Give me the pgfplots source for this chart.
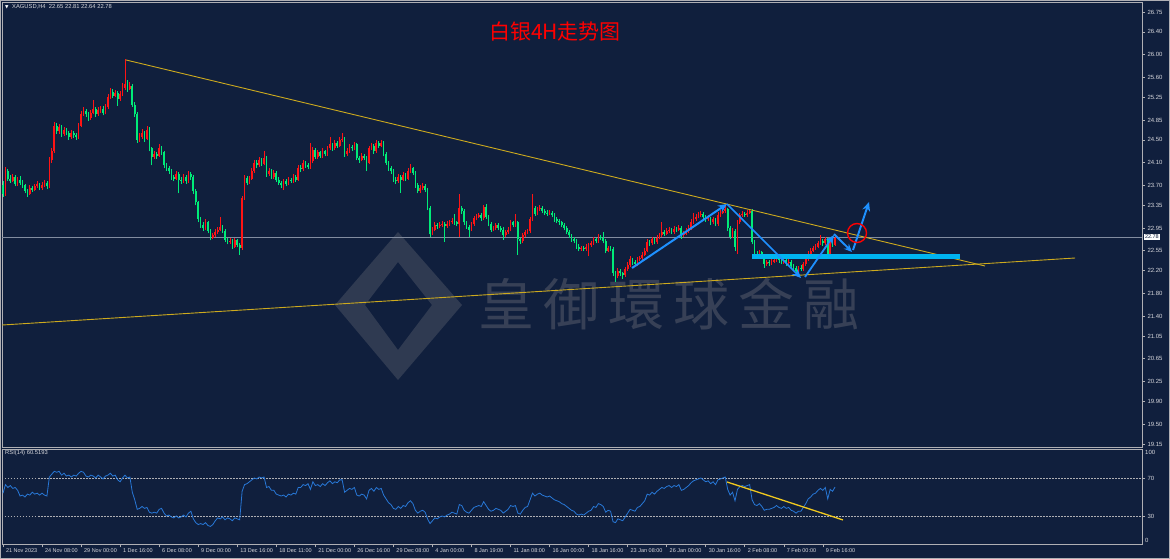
\documentclass[border=0pt]{standalone}
\usepackage{fontspec}
\setmainfont{Liberation Sans}
\newfontfamily\cjk{Noto Sans CJK SC}
\newfontfamily\dejavu{DejaVu Sans}
\usepackage{pgfplots}
\usepackage{pgfplotstable}
\pgfplotsset{compat=1.18}
\usetikzlibrary{arrows.meta}

\definecolor{bgnavy}{RGB}{16,31,61}
\definecolor{upc}{RGB}{255,20,20}
\definecolor{dnc}{RGB}{0,235,120}
\definecolor{axisgray}{RGB}{175,175,180}
\definecolor{labelgray}{RGB}{215,215,220}
\definecolor{trendgold}{RGB}{205,170,30}
\definecolor{arrowblue}{RGB}{30,144,255}
\definecolor{barcyan}{RGB}{0,180,240}
\definecolor{rsiblue}{RGB}{40,120,215}
\definecolor{priceline}{RGB}{130,140,160}
\definecolor{wmgray}{RGB}{128,128,135}
\definecolor{rsiyellow}{RGB}{240,200,30}

\pgfplotstableread{
i o h l c
0 23.70 23.78 23.50 23.55
1 23.55 24.02 23.52 23.95
2 23.95 23.98 23.78 23.82
3 23.82 23.89 23.74 23.78
4 23.78 23.90 23.76 23.85
5 23.85 23.88 23.68 23.72
6 23.72 23.84 23.69 23.80
7 23.80 23.86 23.71 23.75
8 23.75 23.79 23.66 23.70
9 23.70 23.73 23.56 23.60
10 23.60 23.64 23.50 23.55
11 23.55 23.70 23.53 23.65
12 23.65 23.69 23.58 23.62
13 23.62 23.72 23.60 23.68
14 23.68 23.77 23.65 23.72
15 23.72 23.75 23.61 23.65
16 23.65 23.76 23.62 23.70
17 23.70 23.80 23.67 23.75
18 23.75 23.78 23.63 23.68
19 23.68 24.20 23.65 24.15
20 24.15 24.36 24.10 24.30
21 24.30 24.82 24.27 24.75
22 24.75 24.80 24.60 24.65
23 24.65 24.78 24.61 24.72
24 24.72 24.76 24.55 24.60
25 24.60 24.73 24.57 24.68
26 24.68 24.71 24.58 24.62
27 24.62 24.66 24.50 24.55
28 24.55 24.67 24.52 24.62
29 24.62 24.65 24.53 24.58
30 24.58 24.62 24.50 24.55
31 24.55 24.80 24.52 24.75
32 24.75 25.00 24.72 24.95
33 24.95 25.08 24.92 25.00
34 25.00 25.04 24.90 24.95
35 24.95 24.99 24.83 24.88
36 24.88 25.03 24.85 24.98
37 24.98 25.20 24.95 25.05
38 25.05 25.08 24.90 24.95
39 24.95 25.07 24.92 25.02
40 25.02 25.10 24.98 25.05
41 25.05 25.09 24.93 24.98
42 24.98 25.13 24.95 25.08
43 25.08 25.30 25.05 25.25
44 25.25 25.42 25.22 25.35
45 25.35 25.40 25.24 25.28
46 25.28 25.37 25.25 25.32
47 25.32 25.36 25.10 25.22
48 25.22 25.36 25.19 25.30
49 25.30 25.50 25.27 25.42
50 25.42 25.92 25.38 25.48
51 25.48 25.55 25.35 25.40
52 25.40 25.52 25.37 25.45
53 25.45 25.48 25.08 25.12
54 25.12 25.16 24.90 24.95
55 24.95 24.99 24.45 24.50
56 24.50 24.62 24.46 24.55
57 24.55 24.70 24.52 24.62
58 24.62 24.66 24.47 24.52
59 24.52 24.74 24.50 24.68
60 24.68 24.72 24.30 24.35
61 24.35 24.38 24.05 24.20
62 24.20 24.30 24.16 24.25
63 24.25 24.29 24.17 24.22
64 24.22 24.42 24.20 24.35
65 24.35 24.39 24.24 24.28
66 24.28 24.31 24.00 24.05
67 24.05 24.09 23.96 24.00
68 24.00 24.04 23.90 23.95
69 23.95 23.98 23.80 23.85
70 23.85 23.88 23.77 23.82
71 23.82 23.95 23.79 23.90
72 23.90 23.93 23.56 23.80
73 23.80 23.84 23.72 23.78
74 23.78 23.90 23.75 23.85
75 23.85 23.88 23.73 23.78
76 23.78 23.95 23.75 23.90
77 23.90 23.93 23.80 23.85
78 23.85 23.88 23.55 23.60
79 23.60 23.63 23.35 23.40
80 23.40 23.43 23.05 23.10
81 23.10 23.14 22.95 23.00
82 23.00 23.06 22.90 22.95
83 22.95 23.10 22.92 23.05
84 23.05 23.08 22.86 22.90
85 22.90 22.93 22.73 22.78
86 22.78 22.87 22.75 22.82
87 22.82 22.93 22.79 22.88
88 22.88 22.96 22.85 22.92
89 22.92 23.15 22.89 22.97
90 22.97 23.00 22.86 22.90
91 22.90 22.93 22.70 22.74
92 22.74 22.78 22.66 22.70
93 22.70 22.77 22.67 22.72
94 22.72 22.75 22.58 22.62
95 22.62 22.78 22.60 22.73
96 22.73 22.76 22.61 22.65
97 22.65 22.69 22.48 22.60
98 22.60 23.52 22.57 23.48
99 23.48 23.88 23.45 23.83
100 23.83 23.87 23.70 23.75
101 23.75 23.87 23.72 23.82
102 23.82 24.00 23.80 23.95
103 23.95 24.15 23.92 24.10
104 24.10 24.14 24.00 24.05
105 24.05 24.20 24.02 24.15
106 24.15 24.18 24.04 24.08
107 24.08 24.30 24.05 24.18
108 24.18 24.21 23.85 23.90
109 23.90 24.00 23.87 23.95
110 23.95 23.98 23.81 23.85
111 23.85 23.97 23.82 23.92
112 23.92 23.95 23.76 23.80
113 23.80 23.84 23.71 23.75
114 23.75 23.78 23.66 23.70
115 23.70 23.82 23.62 23.78
116 23.78 23.81 23.68 23.72
117 23.72 23.85 23.70 23.80
118 23.80 23.83 23.74 23.78
119 23.78 23.90 23.75 23.85
120 23.85 23.88 23.76 23.80
121 23.80 24.05 23.78 24.00
122 24.00 24.06 23.94 23.98
123 23.98 24.15 23.95 24.10
124 24.10 24.13 24.01 24.05
125 24.05 24.10 23.98 24.02
126 24.02 24.45 23.99 24.12
127 24.12 24.37 24.09 24.32
128 24.32 24.35 24.16 24.20
129 24.20 24.33 24.17 24.28
130 24.28 24.31 24.18 24.22
131 24.22 24.35 24.19 24.30
132 24.30 24.33 24.21 24.25
133 24.25 24.40 24.22 24.35
134 24.35 24.55 24.32 24.42
135 24.42 24.45 24.31 24.35
136 24.35 24.50 24.33 24.45
137 24.45 24.48 24.36 24.40
138 24.40 24.55 24.37 24.50
139 24.50 24.62 24.47 24.52
140 24.52 24.55 24.20 24.25
141 24.25 24.35 24.22 24.30
142 24.30 24.43 24.27 24.38
143 24.38 24.41 24.31 24.35
144 24.35 24.47 24.32 24.42
145 24.42 24.45 24.14 24.18
146 24.18 24.22 24.10 24.15
147 24.15 24.27 24.12 24.22
148 24.22 24.25 24.14 24.18
149 24.18 24.21 23.95 24.10
150 24.10 24.40 24.07 24.35
151 24.35 24.45 24.32 24.40
152 24.40 24.43 24.26 24.30
153 24.30 24.50 24.27 24.45
154 24.45 24.48 24.36 24.40
155 24.40 24.50 24.37 24.45
156 24.45 24.48 24.21 24.25
157 24.25 24.28 24.06 24.10
158 24.10 24.13 23.96 24.00
159 24.00 24.04 23.90 23.95
160 23.95 23.98 23.76 23.80
161 23.80 23.84 23.73 23.78
162 23.78 23.90 23.75 23.85
163 23.85 23.88 23.57 23.80
164 23.80 23.93 23.77 23.88
165 23.88 23.91 23.78 23.82
166 23.82 24.00 23.79 23.95
167 23.95 24.07 23.92 24.00
168 24.00 24.03 23.88 23.92
169 23.92 23.95 23.66 23.70
170 23.70 23.74 23.56 23.60
171 23.60 23.70 23.57 23.65
172 23.65 23.74 23.61 23.68
173 23.68 23.72 23.58 23.62
174 23.62 23.66 23.26 23.30
175 23.30 23.34 22.80 22.85
176 22.85 22.97 22.82 22.92
177 22.92 23.05 22.89 23.00
178 23.00 23.04 22.94 22.98
179 22.98 23.05 22.95 23.00
180 23.00 23.07 22.97 23.02
181 23.02 23.05 22.70 22.98
182 22.98 23.07 22.95 23.02
183 23.02 23.09 22.99 23.05
184 23.05 23.12 23.02 23.08
185 23.08 23.20 23.01 23.05
186 23.05 23.08 22.98 23.02
187 23.02 23.55 22.80 23.30
188 23.30 23.34 23.20 23.25
189 23.25 23.28 23.01 23.05
190 23.05 23.08 22.93 22.97
191 22.97 23.00 22.80 22.92
192 22.92 23.06 22.89 23.02
193 23.02 23.16 22.99 23.12
194 23.12 23.19 23.09 23.15
195 23.15 23.22 23.12 23.18
196 23.18 23.21 23.08 23.12
197 23.12 23.36 23.09 23.32
198 23.32 23.38 23.11 23.15
199 23.15 23.18 22.98 23.02
200 23.02 23.05 22.88 22.92
201 22.92 22.99 22.89 22.95
202 22.95 23.04 22.92 23.00
203 23.00 23.03 22.91 22.95
204 22.95 22.98 22.88 22.92
205 22.92 22.96 22.74 22.82
206 22.82 22.92 22.79 22.88
207 22.88 22.96 22.85 22.92
208 22.92 23.09 22.89 23.05
209 23.05 23.08 22.96 23.00
210 23.00 23.20 22.97 23.05
211 23.05 23.08 22.48 22.75
212 22.75 22.78 22.66 22.72
213 22.72 22.86 22.69 22.82
214 22.82 22.92 22.79 22.88
215 22.88 22.94 22.85 22.90
216 22.90 23.14 22.87 23.10
217 23.10 23.55 23.07 23.30
218 23.30 23.34 23.16 23.20
219 23.20 23.32 23.17 23.28
220 23.28 23.35 23.25 23.30
221 23.30 23.33 23.21 23.25
222 23.25 23.28 23.18 23.22
223 23.22 23.26 23.16 23.20
224 23.20 23.27 23.17 23.22
225 23.22 23.25 23.14 23.18
226 23.18 23.21 23.06 23.10
227 23.10 23.14 23.04 23.08
228 23.08 23.11 23.01 23.05
229 23.05 23.08 22.96 23.00
230 23.00 23.03 22.91 22.95
231 22.95 22.98 22.84 22.88
232 22.88 22.91 22.78 22.82
233 22.82 22.85 22.71 22.75
234 22.75 22.79 22.68 22.72
235 22.72 22.75 22.58 22.62
236 22.62 22.66 22.54 22.58
237 22.58 22.64 22.55 22.60
238 22.60 22.63 22.54 22.58
239 22.58 22.66 22.55 22.62
240 22.62 22.69 22.45 22.65
241 22.65 22.72 22.62 22.68
242 22.68 22.79 22.65 22.75
243 22.75 22.78 22.68 22.72
244 22.72 22.84 22.69 22.80
245 22.80 22.83 22.74 22.78
246 22.78 22.88 22.68 22.72
247 22.72 22.75 22.51 22.55
248 22.55 22.64 22.52 22.60
249 22.60 22.63 22.54 22.58
250 22.58 22.61 22.11 22.15
251 22.15 22.19 22.00 22.10
252 22.10 22.24 22.07 22.20
253 22.20 22.23 22.11 22.15
254 22.15 22.18 22.06 22.12
255 22.12 22.27 22.09 22.22
256 22.22 22.35 22.19 22.30
257 22.30 22.45 22.27 22.40
258 22.40 22.43 22.30 22.35
259 22.35 22.38 22.28 22.32
260 22.32 22.44 22.29 22.40
261 22.40 22.46 22.37 22.42
262 22.42 22.52 22.39 22.48
263 22.48 22.60 22.45 22.55
264 22.55 22.75 22.52 22.70
265 22.70 22.73 22.64 22.68
266 22.68 22.80 22.65 22.75
267 22.75 22.78 22.66 22.70
268 22.70 22.82 22.67 22.78
269 22.78 22.87 22.75 22.82
270 22.82 23.05 22.79 22.88
271 22.88 22.91 22.81 22.85
272 22.85 22.95 22.82 22.90
273 22.90 22.97 22.87 22.92
274 22.92 22.95 22.84 22.88
275 22.88 22.98 22.85 22.93
276 22.93 22.96 22.88 22.92
277 22.92 23.00 22.89 22.95
278 22.95 22.99 22.76 22.82
279 22.82 22.89 22.79 22.85
280 22.85 22.95 22.82 22.90
281 22.90 23.00 22.87 22.95
282 22.95 23.10 22.92 23.05
283 23.05 23.22 23.02 23.10
284 23.10 23.20 23.07 23.15
285 23.15 23.23 23.12 23.18
286 23.18 23.25 23.15 23.20
287 23.20 23.23 23.11 23.15
288 23.15 23.18 23.06 23.10
289 23.10 23.17 23.07 23.12
290 23.12 23.15 23.01 23.05
291 23.05 23.14 23.02 23.10
292 23.10 23.13 22.98 23.02
293 23.02 23.23 22.99 23.18
294 23.18 23.27 23.15 23.22
295 23.22 23.30 23.19 23.25
296 23.25 23.37 23.22 23.28
297 23.28 23.31 22.90 22.95
298 22.95 22.99 22.75 22.80
299 22.80 22.95 22.77 22.90
300 22.90 22.93 22.55 22.62
301 22.62 23.09 22.50 23.05
302 23.05 23.22 23.02 23.18
303 23.18 23.25 23.15 23.20
304 23.20 23.23 23.14 23.18
305 23.18 23.26 23.15 23.22
306 23.22 23.28 23.19 23.25
307 23.25 23.28 22.66 22.70
308 22.70 22.74 22.46 22.50
309 22.50 22.54 22.44 22.48
310 22.48 22.56 22.45 22.52
311 22.52 22.55 22.41 22.45
312 22.45 22.48 22.25 22.32
313 22.32 22.39 22.29 22.35
314 22.35 22.38 22.29 22.33
315 22.33 22.40 22.30 22.36
316 22.36 22.42 22.33 22.38
317 22.38 22.46 22.35 22.42
318 22.42 22.45 22.34 22.38
319 22.38 22.41 22.31 22.35
320 22.35 22.43 22.32 22.38
321 22.38 22.41 22.29 22.33
322 22.33 22.40 22.30 22.36
323 22.36 22.39 22.24 22.28
324 22.28 22.31 22.21 22.25
325 22.25 22.28 22.16 22.20
326 22.20 22.29 22.15 22.25
327 22.25 22.30 22.20 22.23
328 22.23 22.36 22.20 22.32
329 22.32 22.44 22.29 22.40
330 22.40 22.54 22.37 22.50
331 22.50 22.59 22.47 22.55
332 22.55 22.64 22.52 22.60
333 22.60 22.66 22.57 22.62
334 22.62 22.72 22.59 22.68
335 22.68 22.82 22.65 22.72
336 22.72 22.75 22.64 22.68
337 22.68 22.79 22.65 22.75
338 22.75 22.78 22.41 22.45
339 22.45 22.74 22.42 22.70
340 22.70 22.73 22.62 22.65
341 22.65 22.81 22.64 22.78
}\candles

\begin{document}
\begin{tikzpicture}[x=1pt,y=1pt]
\useasboundingbox (0,0) rectangle (1170,559);
\fill[bgnavy] (0,0) rectangle (1170,559);
% watermark logo and text
\fill[wmgray, opacity=0.28, even odd rule] (398,327)--(462,254)--(398,179)--(335,254)--cycle (398,297)--(432,254)--(398,209)--(365,254)--cycle;
\node[anchor=west, text=wmgray, opacity=0.35, inner sep=0pt, font=\cjk\fontsize{56}{56}\selectfont] at (478,255) {皇\hspace{9pt}御\hspace{9pt}環\hspace{9pt}球\hspace{9pt}金\hspace{9pt}融};

\begin{axis}[at={(2pt,557pt)}, anchor=north west, scale only axis,
  width=1140pt, height=445pt,
  xmin=-0.41, xmax=466.8, ymin=19.097, ymax=26.926,
  axis line style={draw=axisgray, line width=0.8pt},
  xtick=\empty,
  ytick={26.75,26.40,26.00,25.60,25.25,24.85,24.50,24.10,23.70,23.35,22.95,22.55,22.20,21.80,21.40,21.05,20.65,20.25,19.90,19.50,19.15},
  yticklabels={26.75,26.40,26.00,25.60,25.25,24.85,24.50,24.10,23.70,23.35,22.95,22.55,22.20,21.80,21.40,21.05,20.65,20.25,19.90,19.50,19.15},
  ytick pos=right, yticklabel pos=right, tick align=outside,
  major tick length=3pt, tick style={axisgray, line width=0.6pt},
  yticklabel style={font=\fontsize{6}{7}\selectfont, text=labelgray, anchor=west, xshift=-1pt},
  clip=true]
% current price line
\draw[priceline, line width=0.6pt] (axis cs:-0.41,22.78) -- (axis cs:466.8,22.78);
% candle wicks
\addplot[draw=none, forget plot, restrict expr to domain={\thisrow{c}-\thisrow{o}}{0:100},
  error bars/.cd, y dir=plus, y explicit, error mark=none,
  error bar style={draw=upc, line width=0.8pt}]
  table[x=i, y=l, y error plus expr=\thisrow{h}-\thisrow{l}] {\candles};
\addplot[draw=none, forget plot, restrict expr to domain={\thisrow{o}-\thisrow{c}}{0.0001:100},
  error bars/.cd, y dir=plus, y explicit, error mark=none,
  error bar style={draw=dnc, line width=0.8pt}]
  table[x=i, y=l, y error plus expr=\thisrow{h}-\thisrow{l}] {\candles};
% candle bodies
\addplot[draw=none, forget plot, restrict expr to domain={\thisrow{c}-\thisrow{o}}{0:100},
  error bars/.cd, y dir=plus, y explicit, error mark=none,
  error bar style={draw=upc, line width=1.7pt}]
  table[x=i, y=o, y error plus expr=\thisrow{c}-\thisrow{o}] {\candles};
\addplot[draw=none, forget plot, restrict expr to domain={\thisrow{o}-\thisrow{c}}{0.0001:100},
  error bars/.cd, y dir=plus, y explicit, error mark=none,
  error bar style={draw=dnc, line width=1.7pt}]
  table[x=i, y=c, y error plus expr=\thisrow{o}-\thisrow{c}] {\candles};
% trend lines
\draw[trendgold, line width=0.9pt] (axis cs:50.41,25.906) -- (axis cs:402.46,22.281);
\draw[trendgold, line width=0.9pt] (axis cs:-0.41,21.243) -- (axis cs:439.34,22.422);
% support bar
\draw[barcyan, line width=5pt] (axis cs:306.97,22.457) -- (axis cs:392.21,22.457);
% arrows
\draw[arrowblue, line width=2pt, -{Stealth[length=9pt,width=8pt]}] (axis cs:257.79,22.246) -- (axis cs:296.72,23.372);
\draw[arrowblue, line width=1.6pt, -{Stealth[length=9pt,width=8pt]}] (axis cs:296.72,23.372) -- (axis cs:327.05,22.070);
\draw[arrowblue, line width=1.8pt, -{Stealth[length=9pt,width=8pt]}] (axis cs:328.69,22.088) -- (axis cs:340.57,22.827);
\draw[arrowblue, line width=1.8pt, -{Stealth[length=8pt,width=7pt]}] (axis cs:340.57,22.844) -- (axis cs:347.95,22.528);
\draw[arrowblue, line width=2pt, -{Stealth[length=9pt,width=8pt]}] (axis cs:348.36,22.563) -- (axis cs:354.92,23.407);
\draw[red, line width=1.4pt] (axis cs:350.0,22.862) circle[radius=9.5pt];
\end{axis}

\begin{axis}[at={(2pt,14.5pt)}, anchor=south west, scale only axis,
  width=1140pt, height=95.5pt,
  xmin=-0.41, xmax=466.8, ymin=0, ymax=100.5,
  axis line style={draw=axisgray, line width=0.8pt},
  xtick={0,16,...,336},
  xticklabels={21 Nov 2023,24 Nov 08:00,29 Nov 00:00,1 Dec 16:00,6 Dec 08:00,9 Dec 00:00,13 Dec 16:00,18 Dec 11:00,21 Dec 00:00,26 Dec 16:00,29 Dec 08:00,4 Jan 00:00,8 Jan 19:00,11 Jan 08:00,16 Jan 00:00,18 Jan 16:00,23 Jan 08:00,26 Jan 00:00,30 Jan 16:00,2 Feb 08:00,7 Feb 00:00,9 Feb 16:00},
  xtick pos=left, xticklabel pos=left,
  ytick={30,70}, yticklabels={30,70},
  ytick pos=right, yticklabel pos=right, tick align=outside,
  major tick length=3pt, tick style={axisgray, line width=0.6pt},
  yticklabel style={font=\fontsize{6}{7}\selectfont, text=labelgray, anchor=west, xshift=-1pt},
  xticklabel style={font=\fontsize{5.5}{6}\selectfont, text=labelgray, anchor=north west, xshift=-0.5pt, yshift=2.5pt},
  clip=true]
\draw[axisgray, line width=0.7pt, dash pattern=on 1.5pt off 1.5pt] (axis cs:-0.41,70) -- (axis cs:466.8,70);
\draw[axisgray, line width=0.7pt, dash pattern=on 1.5pt off 1.5pt] (axis cs:-0.41,30) -- (axis cs:466.8,30);
\addplot[rsiblue, line width=0.8pt, mark=none] coordinates {
(0,54)(1,63)(2,60)(3,62)(4,59)(5,60)(6,57)(7,51)(8,52)(9,50)(10,53)(11,52)(12,55)(13,53)(14,54)(15,52)(16,54)(17,52)(18,51)(19,71)(20,74)(21,77)(22,76)(23,77)(24,73)(25,75)(26,72)(27,73)(28,71)(29,73)(30,72)(31,75)(32,77)(33,76)(34,72)(35,71)(36,73)(37,72)(38,70)(39,73)(40,71)(41,69)(42,72)(43,73)(44,75)(45,72)(46,73)(47,68)(48,66)(49,70)(50,73)(51,70)(52,71)(53,55)(54,47)(55,37)(56,38)(57,40)(58,38)(59,39)(60,34)(61,33)(62,34)(63,33)(64,37)(65,38)(66,33)(67,30)(68,31)(69,29)(70,28)(71,30)(72,28)(73,29)(74,31)(75,29)(76,33)(77,35)(78,27)(79,23)(80,21)(81,22)(82,21)(83,23)(84,20)(85,19)(86,21)(87,25)(88,28)(89,27)(90,29)(91,26)(92,28)(93,27)(94,25)(95,28)(96,27)(97,26)(98,56)(99,63)(100,64)(101,66)(102,68)(103,70)(104,69)(105,71)(106,70)(107,71)(108,60)(109,61)(110,57)(111,57)(112,53)(113,52)(114,51)(115,52)(116,50)(117,53)(118,52)(119,54)(120,53)(121,60)(122,60)(123,63)(124,62)(125,64)(126,58)(127,66)(128,62)(129,63)(130,61)(131,64)(132,62)(133,65)(134,67)(135,64)(136,66)(137,65)(138,68)(139,68)(140,55)(141,57)(142,59)(143,58)(144,60)(145,52)(146,51)(147,53)(148,52)(149,48)(150,57)(151,59)(152,56)(153,60)(154,58)(155,59)(156,52)(157,48)(158,44)(159,42)(160,38)(161,37)(162,40)(163,38)
(164,41)(165,40)(166,44)(167,46)(168,43)(169,36)(170,33)(171,35)(172,36)(173,34)(174,27)(175,22)(176,25)(177,28)(178,27)(179,29)(180,30)(181,29)(182,31)(183,32)(184,34)(185,33)(186,32)(187,42)(188,41)(189,36)(190,34)(191,33)(192,36)(193,39)(194,40)(195,41)(196,40)(197,45)(198,41)(199,37)(200,35)(201,36)(202,38)(203,37)(204,36)(205,33)(206,35)(207,37)(208,41)(209,40)(210,41)(211,33)(212,32)(213,36)(214,39)(215,40)(216,47)(217,54)(218,51)(219,53)(220,54)(221,52)(222,51)(223,50)(224,51)(225,49)(226,47)(227,46)(228,45)(229,43)(230,42)(231,40)(232,38)(233,36)(234,35)(235,32)(236,31)(237,32)(238,31)(239,33)(240,35)(241,36)(242,40)(243,39)(244,43)(245,42)(246,40)(247,34)(248,36)(249,35)(250,24)(251,23)(252,27)(253,26)(254,25)(255,29)(256,33)(257,37)(258,36)(259,35)(260,39)(261,40)(262,43)(263,46)(264,53)(265,52)(266,55)(267,53)(268,56)(269,58)(270,60)(271,59)(272,61)(273,62)(274,60)(275,62)(276,61)(277,63)(278,57)(279,58)(280,60)(281,62)(282,65)(283,67)(284,68)(285,69)(286,70)(287,68)(288,66)(289,67)(290,64)(291,66)(292,63)(293,68)(294,69)(295,70)(296,71)(297,58)(298,52)(299,55)(300,46)(301,58)(302,61)(303,62)(304,61)(305,62)(306,63)(307,47)(308,42)(309,41)(310,43)(311,40)(312,36)(313,37)(314,37)(315,38)(316,39)(317,41)(318,39)(319,38)(320,40)(321,38)(322,39)(323,36)(324,35)(325,33)(326,35)(327,35)(328,39)(329,43)(330,48)(331,50)(332,53)(333,54)(334,57)(335,59)(336,57)(337,60)(338,48)(339,58)(340,56)(341,60.5)
};
\draw[rsiyellow, line width=1.3pt] (axis cs:296.72,65.8) -- (axis cs:344.26,25.8);
\end{axis}

% texts and frame
\node[anchor=west, inner sep=0pt, text=white, font=\dejavu\fontsize{4.5}{5}\selectfont] at (5,552) {▼};
\node[anchor=west, inner sep=0pt, text=labelgray, font=\fontsize{5.8}{6}\selectfont] at (12,552.5) {XAGUSD,H4\ \ 22.65 22.81 22.64 22.78};
\node[inner sep=0pt, text=red, font=\cjk\fontsize{21}{21}\selectfont] at (555,527) {白银4H走势图};
\node[anchor=west, inner sep=0pt, text=labelgray, font=\fontsize{5.8}{6}\selectfont] at (5,105.5) {RSI(14) 60.5193};
\node[fill=white, text=bgnavy, inner sep=0.8pt, anchor=west, font=\fontsize{5.5}{6}\selectfont] at (1144,322) {22.78};
\node[anchor=west, inner sep=0pt, text=labelgray, font=\fontsize{6}{7}\selectfont] at (1145,106.5) {100};
\node[anchor=west, inner sep=0pt, text=labelgray, font=\fontsize{6}{7}\selectfont] at (1145,18.5) {0};
\draw[axisgray, line width=1pt] (0.5,0.5) rectangle (1169.5,558.5);
\end{tikzpicture}
\end{document}
